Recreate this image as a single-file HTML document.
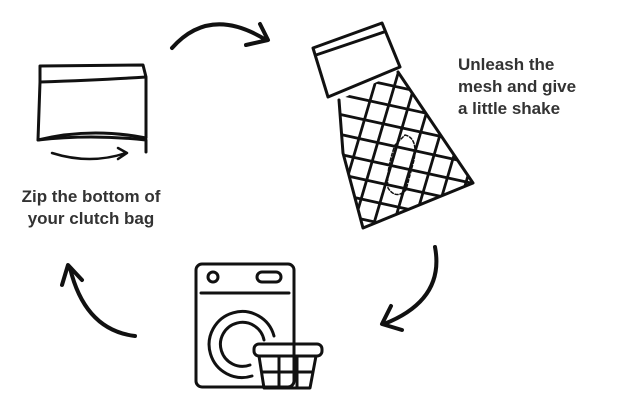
<!DOCTYPE html>
<html><head><style>
body{margin:0;background:#fff;width:620px;height:407px;overflow:hidden;position:relative;font-family:"Liberation Sans",sans-serif}
.t{position:absolute;font-weight:bold;font-size:17px;line-height:22px;color:#333}
</style></head><body>
<svg width="620" height="407" style="position:absolute;left:0;top:0" fill="none" stroke="#111" stroke-linecap="round" stroke-linejoin="round">
<defs><clipPath id="m"><path d="M339 100 L398 72 L473 183 L363 228 L343 153 Z"/></clipPath></defs>
<!-- top arrow -->
<path d="M172 48 Q210 5 266 40" stroke-width="4"/>
<path d="M260 24 L268 40 L246 45" stroke-width="4"/>
<!-- right arrow -->
<path d="M435 247 Q445 300 384 324" stroke-width="4"/>
<path d="M391 306 L382 324 L402 330" stroke-width="4"/>
<!-- left arrow -->
<path d="M135 336 Q85 330 70 268" stroke-width="4"/>
<path d="M62 285 L68 265 L82 280" stroke-width="4"/>
<!-- bag -->
<g stroke-width="3">
<path d="M40 66 L143 65 L146 77 Q100 80 40 82 Z"/>
<path d="M40 82 L38 140 Q90 127 146 138 L146 78"/>
<path d="M38 140 Q90 134 146 140 L146 152"/>
<path d="M52 153 Q90 165 126 153 M118 148 L127 153 L118 159" stroke-width="2.5"/>
</g>
<!-- mesh bag -->
<g stroke-width="3">
<path d="M313 48 L382 23 L400 67 L328 97 Z"/>
<path d="M316 55 L384 32"/>
<path d="M339 100 L343 153 L363 228 L473 183 L398 72"/>
<g stroke-width="2.8" clip-path="url(#m)">
<path d="M320 70 L480 105 M320 90 L480 125 M320 110 L480 145 M320 130 L480 165 M320 150 L480 185 M320 170 L480 205 M320 190 L480 225 M320 210 L480 245"/>
<path d="M332 230 L382 60 M352 230 L402 60 M372 230 L422 60 M392 230 L442 60 M412 230 L462 60 M432 230 L482 60 M452 230 L502 60"/>
</g>
<path d="M405 135 Q418 138 414 160 L406 190 Q396 200 388 188 Q386 170 395 145 Z" stroke-width="1.5" stroke-dasharray="3 2"/>
</g>
<!-- washer -->
<g stroke-width="3">
<rect x="196" y="264" width="98" height="123" rx="6"/>
<path d="M201 293 L289 293"/>
<circle cx="213" cy="277" r="5"/>
<rect x="257" y="272" width="24" height="10" rx="5"/>
<path d="M274 336 A33 33 0 1 0 252 376 M264 340 A22 22 0 1 0 250 365"/>
<rect x="254" y="344" width="68" height="12" rx="5"/>
<path d="M259 356 L264 388 L310 388 L316 356 M262 372 L313 372 M279 356 L279 388 M297 356 L297 388"/>
</g>
</svg>
<div class="t" style="left:6px;top:186px;width:170px;text-align:center">Zip the bottom of<br>your clutch bag</div>
<div class="t" style="left:458px;top:54px">Unleash the<br>mesh and give<br>a little shake</div>
</body></html>
